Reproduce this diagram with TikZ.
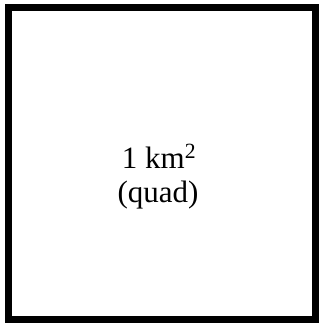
\documentclass[tikz,border=0pt]{standalone}
\usepackage{fontspec}
\setmainfont{Liberation Serif}
\begin{document}
\begin{tikzpicture}[x=1pt,y=1pt,
  frame/.style={draw=black,line width=7pt,fill=white},
  lbl/.style={anchor=base,inner sep=0pt,font=\fontsize{31}{34}\selectfont}]
\useasboundingbox (0,0) rectangle (323,325);
\fill[white] (0,0) rectangle (323,325);
\draw[frame] (8.5,6) rectangle (316,317.5);
\node[lbl] (t1) at (159,157) {1 km\textsuperscript{2}};
\node[lbl] (t2) at (158,123) {(quad)};
\end{tikzpicture}
\end{document}
